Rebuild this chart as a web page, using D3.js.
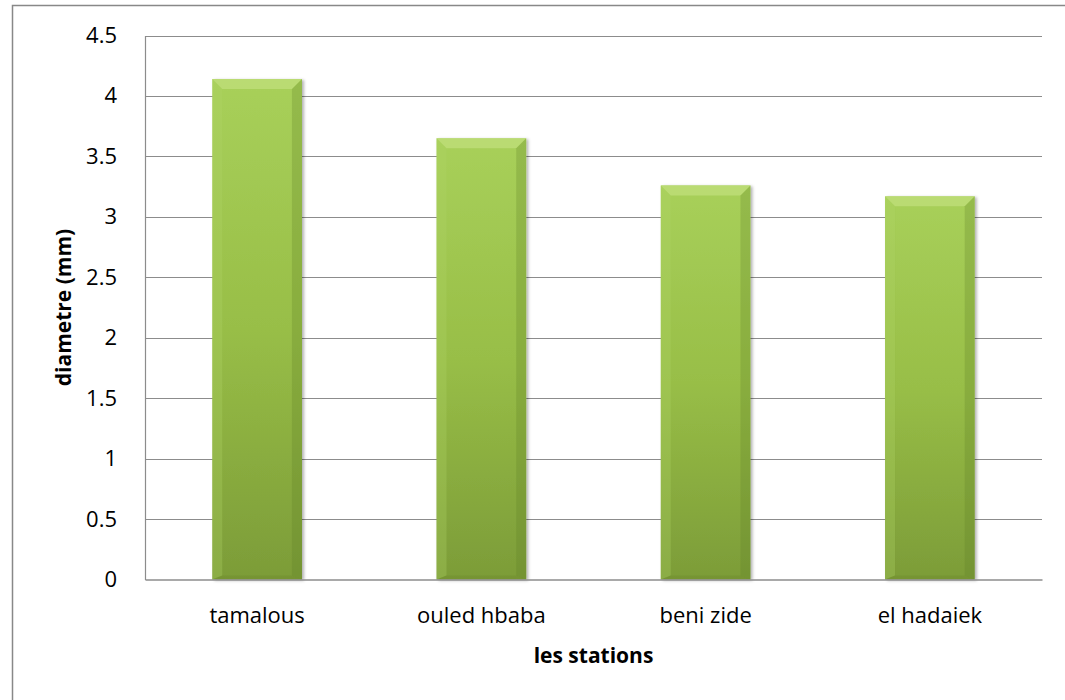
<!DOCTYPE html>
<html><head><meta charset="utf-8">
<script src="https://cdn.jsdelivr.net/npm/d3@7"></script>
<style>body{margin:0;background:#fff}svg{display:block}</style>
</head><body>
<svg id="c" width="1065" height="700"></svg>
<script>
const categories = ["tamalous", "ouled hbaba", "beni zide", "el hadaiek"];
const values = [4.14, 3.65, 3.26, 3.17];
const yTicks = [0, 0.5, 1, 1.5, 2, 2.5, 3, 3.5, 4, 4.5];
const yTitle = "diametre (mm)";
const xTitle = "les stations";

const svg = d3.select("#c");
const font = "'Open Sans', sans-serif";
const fs = 22, fsT = 21;
const L = 145, R = 1042, T = 35.5, B = 579.5;

svg.append("rect").attr("x", 12.5).attr("y", 5.5).attr("width", 1100).attr("height", 800)
  .attr("fill", "#fff").attr("stroke", "#888").attr("stroke-width", 1.5);

const x = d3.scaleBand().domain(categories).range([L, R]).paddingInner(0.6).paddingOuter(0.3);
const y = d3.scaleLinear().domain([0, 4.5]).range([B, T]);

const defs = svg.append("defs");
const g1 = defs.append("linearGradient").attr("id", "bar").attr("x1", 0).attr("y1", 0).attr("x2", 0).attr("y2", 1);
g1.append("stop").attr("offset", "0%").attr("stop-color", "#a8d05a");
g1.append("stop").attr("offset", "50%").attr("stop-color", "#98be47");
g1.append("stop").attr("offset", "100%").attr("stop-color", "#7c9c38");
const f = defs.append("filter").attr("id", "sh").attr("x", "-10%").attr("y", "-10%").attr("width", "130%").attr("height", "130%");
f.append("feDropShadow").attr("dx", 2).attr("dy", 1).attr("stdDeviation", 1.5).attr("flood-color", "#000").attr("flood-opacity", 0.3);

svg.append("g").selectAll("line").data(yTicks.filter(d => d > 0)).join("line")
  .attr("x1", L).attr("x2", R).attr("y1", d => Math.round(y(d)) + 0.5).attr("y2", d => Math.round(y(d)) + 0.5)
  .attr("stroke", "#8c8c8c").attr("stroke-width", 1.2);

const yAxis = svg.append("g").attr("transform", `translate(${L},0)`)
  .call(d3.axisLeft(y).tickValues(yTicks).tickSize(0).tickPadding(28).tickFormat(d3.format("")));
yAxis.select(".domain").attr("stroke", "#8c8c8c").attr("stroke-width", 1.2);
yAxis.selectAll("text").attr("font-family", font).attr("font-size", fs).attr("fill", "#000");

const bars = svg.append("g").selectAll("g").data(categories).join("g");
bars.each(function(c, i) {
  const gg = d3.select(this);
  const x0 = x(c), w = x.bandwidth(), yt = y(values[i]), h = B - yt;
  const bv = 10;
  gg.append("rect").attr("x", x0).attr("y", yt).attr("width", w).attr("height", h)
    .attr("fill", "url(#bar)").attr("filter", "url(#sh)");
  gg.append("path").attr("d", `M${x0},${yt}L${x0 + w},${yt}L${x0 + w - bv},${yt + bv}L${x0 + bv},${yt + bv}Z`)
    .attr("fill", "#c2e07e").attr("opacity", 0.7);
  gg.append("path").attr("d", `M${x0},${yt}L${x0 + bv},${yt + bv}L${x0 + bv},${B - 4}L${x0},${B}Z`)
    .attr("fill", "#b0d468").attr("opacity", 0.3);
  gg.append("path").attr("d", `M${x0 + w},${yt}L${x0 + w - bv},${yt + bv}L${x0 + w - bv},${B - 4}L${x0 + w},${B}Z`)
    .attr("fill", "#5d7a22").attr("opacity", 0.25);
  gg.append("path").attr("d", `M${x0},${B}L${x0 + bv},${B - 4}L${x0 + w - bv},${B - 4}L${x0 + w},${B}Z`)
    .attr("fill", "#5d7a22").attr("opacity", 0.2);
});

const xAxis = svg.append("g").attr("transform", `translate(0,${B})`)
  .call(d3.axisBottom(x).tickSize(0).tickPadding(28));
xAxis.select(".domain").attr("stroke", "#8c8c8c").attr("stroke-width", 1.5);
xAxis.selectAll("text").attr("font-family", font).attr("font-size", fs).attr("fill", "#000");

svg.append("text").attr("x", (L + R) / 2).attr("y", 663).attr("text-anchor", "middle")
  .attr("font-family", font).attr("font-weight", "bold").attr("font-size", fsT).text(xTitle);
svg.append("text").attr("transform", `translate(71,${(T + B) / 2}) rotate(-90)`).attr("text-anchor", "middle")
  .attr("font-family", font).attr("font-weight", "bold").attr("font-size", fsT).text(yTitle);
</script>
</body></html>
